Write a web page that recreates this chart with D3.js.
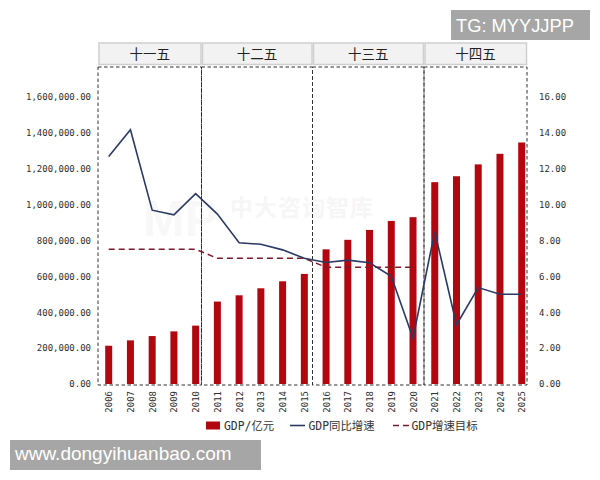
<!DOCTYPE html>
<html>
<head>
<meta charset="utf-8">
<script src="https://cdn.jsdelivr.net/npm/d3@7"></script>
<style>
  html, body { margin: 0; padding: 0; background: #fff; }
  text { fill: #333; }
  .tick text { font-family: "DejaVu Sans Mono", monospace; font-size: 9px; fill: #2e2e2e; }
</style>
</head>
<body>
<div id="container"></div>
<script>
const years = ["2006", "2007", "2008", "2009", "2010", "2011", "2012", "2013", "2014", "2015",
  "2016", "2017", "2018", "2019", "2020", "2021", "2022", "2023", "2024", "2025"];
const gdp = [213000, 243000, 267000, 293000, 325000, 459000, 494000, 533000, 572000, 613000,
  750000, 803000, 858000, 908000, 929000, 1124000, 1157000, 1223000, 1282000, 1345000];
const growth = [12.67, 14.16, 9.68, 9.42, 10.6, 9.46, 7.87, 7.78, 7.47, 7.0,
  6.77, 6.9, 6.75, 6.0, 2.55, 8.49, 3.3, 5.37, 5.0, 5.0];
const target = [7.5, 7.5, 7.5, 7.5, 7.5, 7, 7, 7, 7, 7, 6.5, 6.5, 6.5, 6.5, 6.5,
  null, null, null, null, null];
const periods = ["十一五", "十二五", "十三五", "十四五"];
const leftTicks = [0, 200000, 400000, 600000, 800000, 1000000, 1200000, 1400000, 1600000];
const rightTicks = [0, 2, 4, 6, 8, 10, 12, 14, 16];
const legendNames = ["GDP/亿元", "GDP同比增速", "GDP增速目标"];

const w = 600;
const h = 480;
const barWidth = 7;
const panelEdges = [98, 201.5, 312.5, 424, 527]; // period dividers do not sit midway between years
const panelTop = 67;
const panelBottom = 385;
const cjk = '"DejaVu Sans Mono", "Noto Sans CJK SC", monospace';

const svg = d3.select("#container").append("svg")
  .attr("width", w).attr("height", h)
  .style("display", "block");

const xScale = d3.scalePoint().domain(years).range([108.7, 521.7]);
const yLeft = d3.scaleLinear().domain([0, 1600000]).range([384, 96.7]);
const yRight = d3.scaleLinear().domain([0, 16]).range([384, 96.7]);

// faint watermark behind the plot
svg.append("text")
  .attr("x", 230).attr("y", 216)
  .style("font-family", '"Noto Sans CJK SC"')
  .style("font-size", "23px").style("font-weight", 700)
  .style("letter-spacing", "1px")
  .style("fill", "#f6f6f6")
  .text("中大咨询智库");
svg.append("text")
  .attr("x", 143).attr("y", 236)
  .style("font-family", "Liberation Sans")
  .style("font-size", "50px").style("font-weight", 700)
  .style("fill", "#f8f8f8")
  .text("MP");

// period header strips
const strips = svg.append("g").selectAll("g").data(periods).enter().append("g");
strips.append("rect")
  .attr("x", (d, i) => panelEdges[i] + 1)
  .attr("y", 43)
  .attr("width", (d, i) => panelEdges[i + 1] - panelEdges[i] - 1.5)
  .attr("height", 21.5)
  .attr("fill", "#f2f2f2")
  .attr("stroke", "#cfcfcf")
  .attr("stroke-width", 1.5);
strips.append("text")
  .attr("x", (d, i) => (panelEdges[i] + panelEdges[i + 1]) / 2)
  .attr("y", 54)
  .attr("dy", "0.36em")
  .attr("text-anchor", "middle")
  .style("font-family", '"Noto Sans CJK SC"')
  .style("font-size", "13.5px")
  .style("fill", "#222")
  .text(d => d);

// bars
svg.append("g").selectAll("rect").data(gdp).enter().append("rect")
  .attr("x", (d, i) => xScale(years[i]) - barWidth / 2)
  .attr("y", d => yLeft(d))
  .attr("width", barWidth)
  .attr("height", d => yLeft(0) - yLeft(d))
  .attr("fill", "#b30710");

// dashed panels
svg.append("g").selectAll("rect").data(periods).enter().append("rect")
  .attr("x", (d, i) => panelEdges[i])
  .attr("y", panelTop)
  .attr("width", (d, i) => panelEdges[i + 1] - panelEdges[i])
  .attr("height", panelBottom - panelTop)
  .attr("fill", "none")
  .attr("stroke", "#333")
  .attr("stroke-width", 1)
  .attr("stroke-dasharray", "3.5,2.5");

const lineGen = d3.line()
  .defined(d => d != null)
  .x((d, i) => xScale(years[i]))
  .y(d => yRight(d));

svg.append("path")
  .datum(target)
  .attr("d", lineGen)
  .attr("fill", "none")
  .attr("stroke", "#7c1a2c")
  .attr("stroke-width", 1.5)
  .attr("stroke-dasharray", "6,4");

svg.append("path")
  .datum(growth)
  .attr("d", lineGen)
  .attr("fill", "none")
  .attr("stroke", "#2b3a63")
  .attr("stroke-width", 1.6)
  .attr("stroke-linejoin", "miter");

// axes
const xAxis = d3.axisBottom(xScale).tickSize(0).tickPadding(0);
const leftAxis = d3.axisLeft(yLeft).tickValues(leftTicks).tickSize(0).tickPadding(0)
  .tickFormat(d3.format(",.2f"));
const rightAxis = d3.axisRight(yRight).tickValues(rightTicks).tickSize(0).tickPadding(0)
  .tickFormat(d3.format(".2f"));

const gx = svg.append("g").attr("transform", "translate(0,391)").call(xAxis);
gx.select(".domain").remove();
gx.selectAll("text")
  .attr("transform", "rotate(-90)")
  .attr("x", 0).attr("y", 0).attr("dy", "0.34em")
  .style("text-anchor", "end");

const gl = svg.append("g").attr("transform", "translate(91,0)").call(leftAxis);
gl.select(".domain").remove();

const gr = svg.append("g").attr("transform", "translate(539,0)").call(rightAxis);
gr.select(".domain").remove();

// legend
const legend = svg.append("g");
legend.append("rect")
  .attr("x", 206).attr("y", 421.5)
  .attr("width", 14).attr("height", 8)
  .attr("fill", "#b30710");
legend.append("line")
  .attr("x1", 290).attr("x2", 305).attr("y1", 425.5).attr("y2", 425.5)
  .attr("stroke", "#2b3a63").attr("stroke-width", 1.6);
legend.append("line")
  .attr("x1", 393).attr("x2", 409).attr("y1", 425.5).attr("y2", 425.5)
  .attr("stroke", "#7c1a2c").attr("stroke-width", 1.5)
  .attr("stroke-dasharray", "6,4");
legend.selectAll("text").data(legendNames).enter().append("text")
  .attr("x", (d, i) => [224, 308.5, 411.5][i])
  .attr("y", 426)
  .attr("dy", "0.36em")
  .style("font-family", cjk)
  .style("font-size", "11.4px")
  .text(d => d);

// grey overlay labels
svg.append("rect").attr("x", 451).attr("y", 10).attr("width", 139).attr("height", 30).attr("fill", "#a6a6a6");
svg.append("text").attr("x", 456).attr("y", 32)
  .style("font-family", "Liberation Sans").style("font-size", "18.3px").style("fill", "#fff")
  .text("TG: MYYJJPP");
svg.append("rect").attr("x", 10).attr("y", 440).attr("width", 251).attr("height", 30).attr("fill", "#a6a6a6");
svg.append("text").attr("x", 15).attr("y", 460)
  .style("font-family", "Liberation Sans").style("font-size", "19px").style("fill", "#fff")
  .text("www.dongyihuanbao.com");
</script>
</body>
</html>
